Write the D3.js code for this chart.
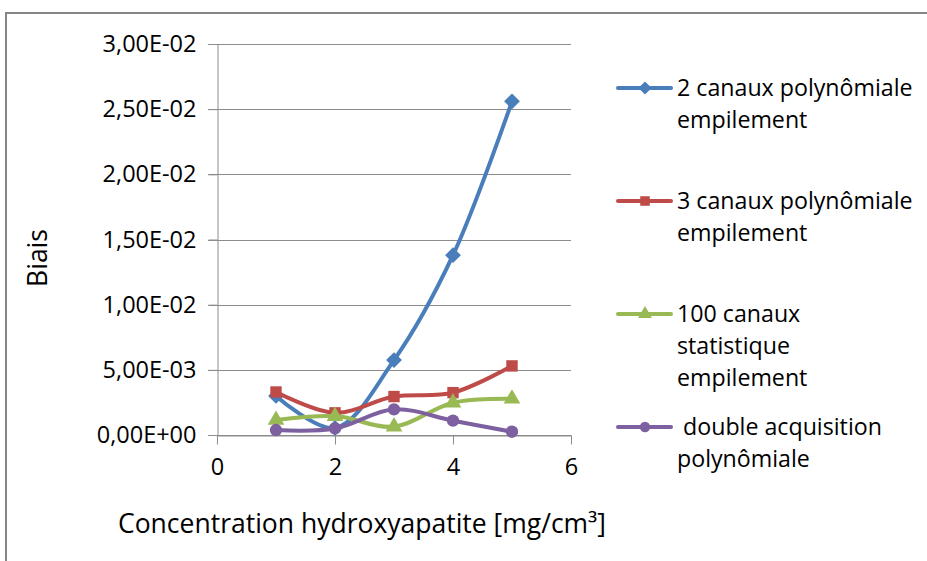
<!DOCTYPE html>
<html>
<head>
<meta charset="utf-8">
<script src="https://cdn.jsdelivr.net/npm/d3@7"></script>
<style>
  body { margin: 0; background: #fff; }
  text { font-family: "Open Sans", sans-serif; fill: #000; }
</style>
</head>
<body>
<div id="the_board"></div>
<script>
// x values (concentration)
var concentrations = [1, 2, 3, 4, 5];

// series values
var serieNames = [
  ["2 canaux polynômiale", "empilement"],
  ["3 canaux polynômiale", "empilement"],
  ["100 canaux", "statistique", "empilement"],
  [" double acquisition", "polynômiale"]
];
var deuxCanaux = [0.0030, 0.00054, 0.00575, 0.0138, 0.0256];
var troisCanaux = [0.0033, 0.0017, 0.00295, 0.00325, 0.0053];
var centCanaux = [0.00115, 0.00145, 0.00064, 0.00248, 0.00278];
var doubleAcq = [0.00038, 0.0005, 0.00197, 0.0011, 0.00025];

var xTicks = [0, 2, 4, 6];
var yTicks = [0, 0.005, 0.01, 0.015, 0.02, 0.025, 0.03];
var yTickLabels = ["0,00E+00", "5,00E-03", "1,00E-02", "1,50E-02", "2,00E-02", "2,50E-02", "3,00E-02"];

var colors = ["#4A7EBB", "#BE4B48", "#98B954", "#7D60A0"];
var allSeries = [deuxCanaux, troisCanaux, centCanaux, doubleAcq];

var width_board = 927, height_board = 561;
var plot = { left: 217, right: 571, top: 44, bottom: 435 };

// marker shapes: diamond is a square turned 45 degrees
function markerPath(s, k) {
  var shapes = [d3.symbolSquare, d3.symbolSquare, d3.symbolTriangle, d3.symbolCircle];
  var sizes = [125, 130, 120, 120];
  return d3.symbol().type(shapes[s]).size(sizes[s] * k)();
}
var markerRotate = [45, 0, 0, 0];

var svg_board = d3.select("#the_board")
  .append("svg")
  .attr("width", width_board)
  .attr("height", height_board);

// outer chart frame
svg_board.append("path")
  .attr("d", "M6,561 L6,13 L927,13")
  .attr("fill", "none")
  .attr("stroke", "#868686")
  .attr("stroke-width", 2);

var x = d3.scaleLinear().domain([0, 6]).range([plot.left, plot.right]);
var y = d3.scaleLinear().domain([0, 0.03]).range([plot.bottom, plot.top]);

// horizontal gridlines
svg_board.append("g")
  .selectAll("line")
  .data(yTicks)
  .enter()
  .append("line")
  .attr("x1", plot.left - 9)
  .attr("x2", plot.right)
  .attr("y1", function(d) { return Math.round(y(d)) + 0.5; })
  .attr("y2", function(d) { return Math.round(y(d)) + 0.5; })
  .attr("stroke", "#8c8c8c")
  .attr("stroke-width", 1);

// y axis
var yAxis = svg_board.append("g")
  .attr("transform", "translate(" + (plot.left + 0.5) + ",0)")
  .call(d3.axisLeft(y)
    .tickValues(yTicks)
    .tickSize(9)
    .tickPadding(12)
    .tickFormat(function(d, i) { return yTickLabels[i]; }));
yAxis.selectAll("path, line").attr("stroke", "#8c8c8c");
yAxis.selectAll("text").attr("font-size", 23.5).attr("font-family", "Open Sans").attr("fill", "#000");

// x axis
var xAxis = svg_board.append("g")
  .attr("transform", "translate(0," + (plot.bottom + 0.5) + ")")
  .call(d3.axisBottom(x)
    .tickValues(xTicks)
    .tickSize(9)
    .tickPadding(14)
    .tickSizeOuter(0)
    .tickFormat(d3.format("d")));
xAxis.selectAll("path, line").attr("stroke", "#8c8c8c");
xAxis.selectAll("text").attr("font-size", 23.5).attr("font-family", "Open Sans").attr("fill", "#000");

// axis titles
svg_board.append("text")
  .attr("x", 362)
  .attr("y", 533)
  .attr("text-anchor", "middle")
  .attr("font-size", 26.5)
  .text("Concentration hydroxyapatite [mg/cm³]");

svg_board.append("text")
  .attr("transform", "translate(47,258) rotate(-90)")
  .attr("text-anchor", "middle")
  .attr("font-size", 26.5)
  .text("Biais");

// smoothed lines
var line = d3.line()
  .x(function(d, i) { return x(concentrations[i]); })
  .y(function(d) { return y(d); })
  .curve(d3.curveCatmullRom.alpha(0.5));

allSeries.forEach(function(values, s) {
  svg_board.append("path")
    .datum(values)
    .attr("d", line)
    .attr("fill", "none")
    .attr("stroke", colors[s])
    .attr("stroke-width", 4)
    .attr("stroke-linecap", "round");

  svg_board.append("g")
    .selectAll("path")
    .data(values)
    .enter()
    .append("path")
    .attr("transform", function(d, i) {
      return "translate(" + x(concentrations[i]) + "," + y(d) + ") rotate(" + markerRotate[s] + ")";
    })
    .attr("d", markerPath(s, 1))
    .attr("fill", colors[s]);
});

// legend
var legendTop = [88, 201, 314, 427];
var legend = svg_board.append("g");
serieNames.forEach(function(lines, s) {
  var g = legend.append("g").attr("transform", "translate(0," + legendTop[s] + ")");
  g.append("line")
    .attr("x1", 618).attr("x2", 671)
    .attr("y1", 0).attr("y2", 0)
    .attr("stroke", colors[s])
    .attr("stroke-width", 4)
    .attr("stroke-linecap", "round");
  g.append("path")
    .attr("transform", "translate(645,0) rotate(" + markerRotate[s] + ")")
    .attr("d", markerPath(s, 0.7))
    .attr("fill", colors[s]);
  lines.forEach(function(t, k) {
    g.append("text")
      .attr("x", 677)
      .attr("y", k * 32)
      .attr("dy", "0.35em")
      .attr("font-size", 23.2)
      .style("white-space", "pre")
      .text(t);
  });
});
</script>
</body>
</html>
